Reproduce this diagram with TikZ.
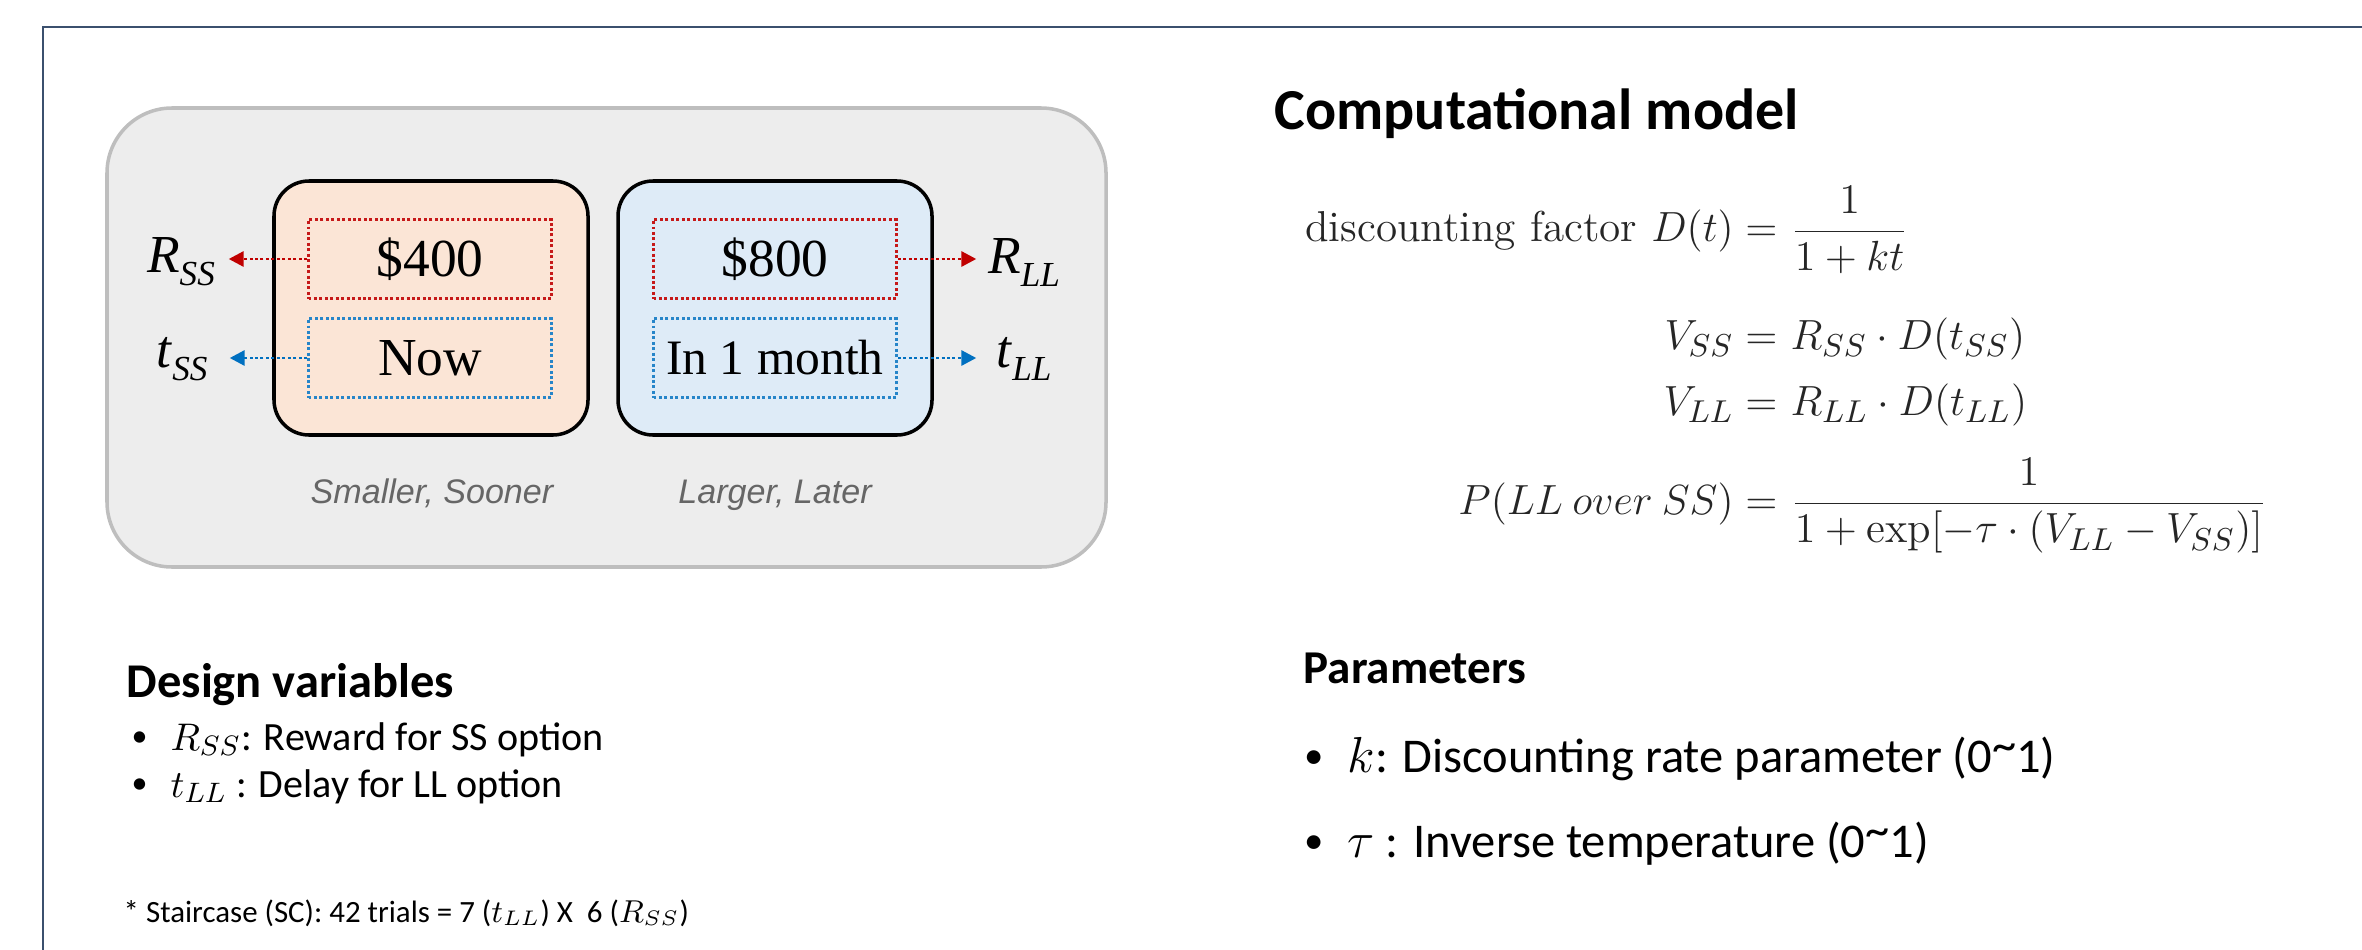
\documentclass[tikz,border=0pt]{standalone}
\usepackage{amsmath}
\usepackage{fontspec}
\usepackage{tikz}
\usetikzlibrary{arrows.meta, positioning, calc}
\newfontfamily\calibri{Carlito}
\newfontfamily\timesrm{Liberation Serif}
\newfontfamily\helv{Liberation Sans}
\definecolor{framecol}{RGB}{59,80,110}
\definecolor{ssfill}{RGB}{251,229,214}
\definecolor{llfill}{RGB}{222,235,247}
\definecolor{bgfill}{RGB}{237,237,237}
\definecolor{bgline}{RGB}{190,190,190}
\definecolor{rwdred}{RGB}{192,0,0}
\definecolor{dlyblue}{RGB}{0,112,192}
\newcommand{\varlbl}[2]{\textit{#1}\raisebox{-3.7pt}{\fontsize{10}{12}\selectfont\textit{#2}}}
\newcommand{\bul}[1]{\makebox[#1][l]{\raisebox{0.08em}{\scalebox{0.8}{\textbullet}}}}
\newcommand{\rng}{(0\raisebox{0.22em}{\textasciitilde}1)}

\begin{document}
\begin{tikzpicture}[
  bgpanel/.style={draw=bgline, line width=1pt, fill=bgfill, rounded corners=0.65cm,
                  minimum width=9.99cm, minimum height=4.59cm},
  option/.style={draw=black, line width=1pt, rounded corners=0.35cm,
                 minimum width=3.14cm, minimum height=2.54cm},
  field/.style={line width=0.85pt, dash pattern=on 0.85pt off 0.7pt, inner sep=0,
                minimum width=2.43cm, minimum height=0.79cm,
                font=\timesrm\fontsize{15.2}{18}\selectfont},
  lbl/.style={font=\timesrm\fontsize{15.2}{18}\selectfont, minimum width=0.94cm,
              inner sep=0, anchor=base},
  tag/.style={font=\helv\itshape\fontsize{9.7}{12}\selectfont, text=black!60, anchor=base},
  rarrow/.style={draw=rwdred, line width=0.85pt, dash pattern=on 0.85pt off 0.7pt,
                 -{Triangle[length=0.15cm,width=0.15cm]}},
  barrow/.style={rarrow, draw=dlyblue},
  head/.style={font=\calibri\bfseries\fontsize{13.8}{16}\selectfont, anchor=base west, inner sep=0},
  item/.style={font=\calibri\fontsize{11.4}{14}\selectfont, anchor=base west, inner sep=0},
  eqn/.style={font=\fontsize{12.3}{15}\selectfont, text=black!85, inner sep=0}
]
  \useasboundingbox (0,0) rectangle (23.62,-9.50);
  \draw[framecol, line width=0.7pt] (0.43,-10) -- (0.43,-0.27) -- (24,-0.27);

  % choice card
  \node[bgpanel] (card) at (6.065,-3.375) {};
  \node[option, fill=ssfill] (ss) at (4.31,-3.08) {};
  \node[option, fill=llfill] (ll) at (7.75,-3.08) {};
  \node[field, draw=rwdred!90] (ssamt) at (4.30,-2.59) {\$400};
  \node[field, draw=dlyblue!85] (sswhen) at (4.30,-3.58) {Now};
  \node[field, draw=rwdred!90] (llamt) at (7.75,-2.59) {\$800};
  \node[field, draw=dlyblue!85, font=\timesrm\fontsize{14.1}{17}\selectfont] (llwhen) at (7.75,-3.58) {In 1 month};
  \node[tag] (sstag) at (4.32,-5.03) {Smaller, Sooner};
  \node[tag] (lltag) at (7.75,-5.03) {Larger, Later};

  \node[lbl] (rss) at (1.81,-2.72) {\varlbl{R}{SS}};
  \node[lbl] (tss) at (1.82,-3.67) {\varlbl{t}{SS}};
  \node[lbl] (rll) at (10.24,-2.73) {\varlbl{R}{LL}};
  \node[lbl] (tll) at (10.24,-3.67) {\varlbl{t}{LL}};
  \draw[rarrow] (ssamt.west) -- (ssamt.west -| rss.east);
  \draw[barrow] (sswhen.west) -- (sswhen.west -| tss.east);
  \draw[rarrow] (llamt.east) -- (llamt.east -| rll.west);
  \draw[barrow] (llwhen.east) -- (llwhen.east -| tll.west);

  % design variables
  \node[head] (dvhead) at (1.26,-6.97) {Design variables};
  \node[item] (dv1) at (1.31,-7.50) {\bul{0.39cm}$R_{SS}$: Reward for SS option};
  \node[item] (dv2) at (1.31,-7.97) {\bul{0.39cm}$t_{LL}$ : Delay for LL option};
  \node[item, font=\calibri\fontsize{8.8}{11}\selectfont] (scnote) at (1.23,-9.22)
    {* Staircase (SC): 42 trials = 7 ($t_{LL}$) X\ \ 6 ($R_{SS}$)};

  % model
  \node[head, font=\calibri\bfseries\fontsize{16.5}{20}\selectfont] (cmhead) at (12.74,-1.30) {Computational model};
  \node[eqn, anchor=base east] (dlhs) at (17.90,-2.42) {discounting factor $D(t) = {}$};
  \node[eqn, anchor=base west] (drhs) at (dlhs.base east) {$\displaystyle\frac{1}{1+kt}$};
  \node[eqn, anchor=base east] (vsslhs) at (17.90,-3.49) {$V_{SS} = {}$};
  \node[eqn, anchor=base west] (vssrhs) at (vsslhs.base east) {$R_{SS}\cdot D(t_{SS})$};
  \node[eqn, anchor=base east] (vlllhs) at (17.90,-4.15) {$V_{LL} = {}$};
  \node[eqn, anchor=base west] (vllrhs) at (vlllhs.base east) {$R_{LL}\cdot D(t_{LL})$};
  \node[eqn, anchor=base east] (plhs) at (17.90,-5.14) {$P(LL\:over\:SS) = {}$};
  \node[eqn, anchor=base west] (prhs) at (plhs.base east)
    {$\displaystyle\frac{1}{1+\exp[-\tau\cdot(V_{LL}-V_{SS})]}$};

  % parameters
  \node[head, font=\calibri\bfseries\fontsize{13.4}{16}\selectfont] (phead) at (13.03,-6.83) {Parameters};
  \node[item, font=\calibri\fontsize{13.8}{16}\selectfont] (p1) at (13.04,-7.72)
    {\bul{0.43cm}$k$: Discounting rate parameter \rng};
  \node[item, font=\calibri\fontsize{13.8}{16}\selectfont] (p2) at (13.04,-8.57)
    {\bul{0.43cm}$\tau$ : Inverse temperature \rng};
\end{tikzpicture}
\end{document}
